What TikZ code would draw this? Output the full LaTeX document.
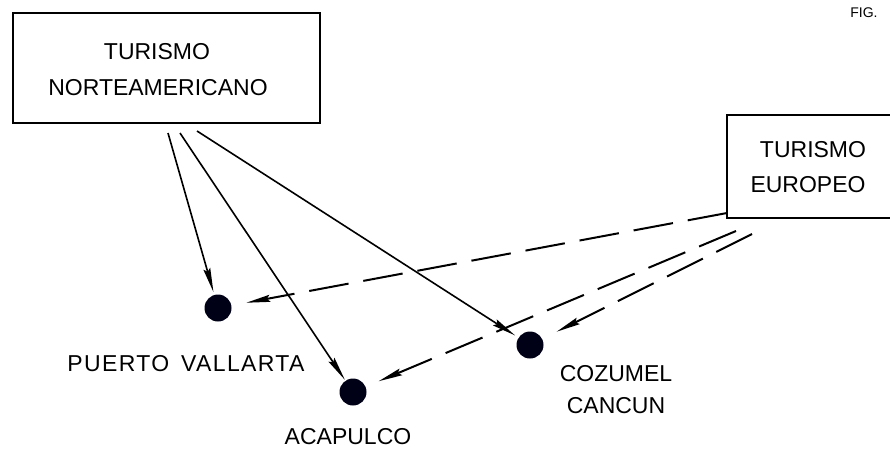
\documentclass[tikz,border=0pt]{standalone}
\usepackage{fontspec}
\setmainfont{Liberation Sans}
\usetikzlibrary{arrows.meta}
\begin{document}
\begin{tikzpicture}[x=1pt,y=-1pt,
  lbl/.style={font=\fontsize{23}{27}\selectfont, inner sep=0pt, text=black},
  boxnode/.style={draw, line width=1.6pt, inner sep=0pt},
  dot/.style={circle, fill=black!85!blue!60!black, minimum size=27pt, inner sep=0pt},
  sarrow/.style={line width=1.6pt, -{Stealth[length=24pt,width=7pt,inset=3pt]}},
  darrow/.style={line width=2pt, dash pattern=on 40pt off 15pt, -{Stealth[length=24pt,width=7pt,inset=3pt]}}]
\useasboundingbox (0,0) rectangle (890,448);
% boxes
\node[boxnode, minimum width=307pt, minimum height=110pt] (na) at (166.5,68) {};
\node[lbl] (naT1) at (157,52) {TURISMO};
\node[lbl] (naT2) at (158,88) {NORTEAMERICANO};
\node[boxnode, minimum width=175pt, minimum height=103pt] (eu) at (814.5,166.5) {};
\node[lbl] (euT1) at (813,150) {TURISMO};
\node[lbl] (euT2) at (808,185) {EUROPEO};
\node[font=\fontsize{14}{16}\selectfont, inner sep=0pt] (fig) at (864,13) {FIG.};
% dots
\node[dot] (pv) at (218,308) {};
\node[dot] (ac) at (353,392) {};
\node[dot] (cz) at (530,345) {};
\node[lbl] (pvT) at (186,364) {\addfontfeature{LetterSpace=6}PUERTO\hspace{4pt} VALLARTA};
\node[lbl] (acT) at (348,437) {ACAPULCO};
\node[lbl] (czT1) at (616,374) {COZUMEL};
\node[lbl] (czT2) at (616,406) {CANCUN};
% start points
\coordinate (s1) at (168,133);
\coordinate (s2) at (180,133);
\coordinate (s3) at (197,131);
\coordinate (d1) at (727,213);
\coordinate (d2) at (736,231);
\coordinate (d3) at (752,234);
% connectors
\draw[sarrow, shorten >=3pt] (s1) -- (pv);
\draw[sarrow, shorten >=1pt] (s2) -- (ac);
\draw[sarrow, shorten >=4pt] (s3) -- (cz);
\draw[darrow, shorten >=15pt] (d1) -- (pv);
\draw[darrow, shorten >=14pt] (d2) -- (ac);
\draw[darrow, shorten >=16pt] (d3) -- (cz);
\end{tikzpicture}
\end{document}
